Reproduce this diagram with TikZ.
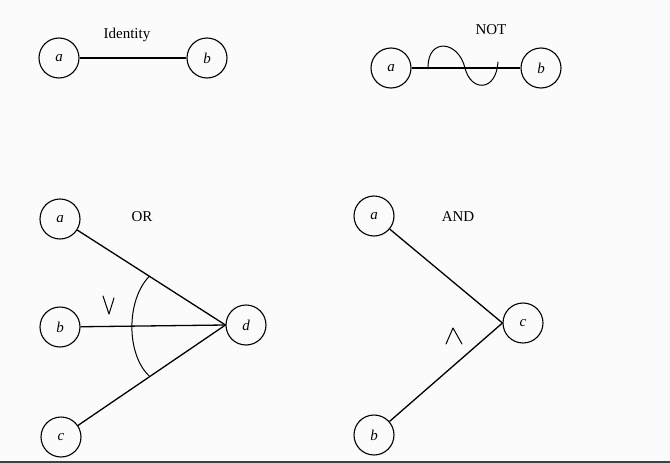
\documentclass[tikz,border=0pt]{standalone}
\usepackage{fontspec}
\setmainfont{Liberation Serif}
\usetikzlibrary{calc}

\begin{document}
\begin{tikzpicture}[
  x=1pt, y=-1pt,
  font=\fontsize{15}{15}\selectfont,
  vertex/.style={circle, draw, line width=1.1pt, minimum size=40pt, inner sep=0pt, font=\fontsize{15}{15}\selectfont\itshape},
  edge/.style={line width=1.3pt},
  penstroke/.style={line width=1pt, line cap=round, line join=round}
]
% ---- Page (pixel grid, y downwards) ----
\useasboundingbox[fill=gray!3] (0,0) rectangle (670,463);
\fill[black!75] (0,460.5) rectangle (670,463);

% ---- Identity ----
\node[vertex] (ia) at (59,58) {a};
\node[vertex] (ib) at (207,58) {b};
\node (ititle) at (127,35) {Identity};
\draw[edge] (ia) -- (ib);

% ---- NOT ----
\node[vertex] (na) at (391,68) {a};
\node[vertex] (nb) at (541,68) {b};
\node (ntitle) at (491,30) {NOT};
\draw[edge] (na) -- (nb);
% wave across the edge
\draw[penstroke] (428,67) .. controls (428,38) and (458,40) .. (465,68)
  .. controls (471,92) and (496,92) .. (498,62);

% ---- OR ----
\node[vertex] (oa) at (60,219) {a};
\node[vertex] (ob) at (60,327) {b};
\node[vertex] (oc) at (61,437) {c};
\node[vertex] (od) at (246,325) {d};
\node (otitle) at (142,217) {OR};
\draw[edge] (oa) -- (od.west);
\draw[edge] (ob) -- (od.west);
\draw[edge] (oc) -- (od.west);
% arc over the three edges
\coordinate (otop) at ($(od.west)!0.46!(oa)$);
\coordinate (obot) at ($(od.west)!0.46!(oc)$);
\draw[penstroke] (otop) .. controls (126,300) and (126,355) .. (obot);
% or sign
\draw[penstroke] (103,296) -- (109,314) -- (114,298);

% ---- AND ----
\node[vertex] (aa) at (374,216) {a};
\node[vertex] (ab) at (374,435) {b};
\node[vertex] (ac) at (523,323) {c};
\node (atitle) at (458,217) {AND};
\draw[edge] (aa) -- (ac.west);
\draw[edge] (ab) -- (ac.west);
% and sign
\draw[penstroke] (446,344) -- (453,328) -- (462,344);
\end{tikzpicture}
\end{document}
